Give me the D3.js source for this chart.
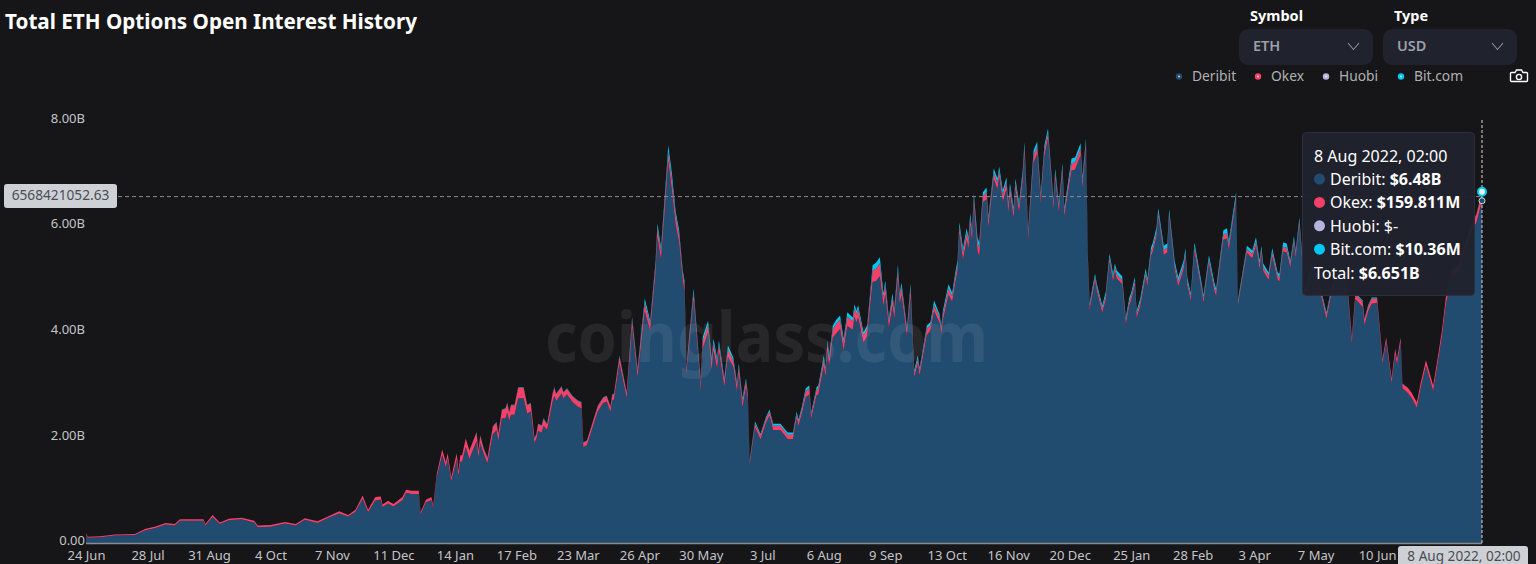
<!DOCTYPE html>
<html><head><meta charset="utf-8">
<script src="https://cdn.jsdelivr.net/npm/d3@7/dist/d3.min.js"></script>
<style>
html,body{margin:0;padding:0;background:#161618;overflow:hidden}
svg{display:block}
text{font-family:"Noto Sans",sans-serif}
</style></head><body>
<svg id="chart" width="1536" height="564"></svg>
<script>
const chartTitle = "Total ETH Options Open Interest History";
const seriesNames = ["Deribit","Okex","Huobi","Bit.com"];
const seriesColors = ["#224b70","#f5406a","#b8b3de","#00c8f2"];
const xTickLabels = ["24 Jun","28 Jul","31 Aug","4 Oct","7 Nov","11 Dec","14 Jan","17 Feb","23 Mar","26 Apr","30 May","3 Jul","6 Aug","9 Sep","13 Oct","16 Nov","20 Dec","25 Jan","28 Feb","3 Apr","7 May","10 Jun"];
const xTickStep = 34;
const yTicks = [0,2,4,6,8];
const dayIndex = [
0,1,8,16,27,33,38,44,49,52,
65,66,70,74,79,86,93,95,102,110,
116,121,128,135,140,145,149,153,156,160,
163,164,167,170,175,177,180,184,185,188,
191,192,194,197,199,200,202,205,206,207,
208,210,212,216,217,218,220,222,225,227,
228,230,232,233,234,235,237,239,242,244,
246,248,249,250,252,253,255,258,259,260,
263,264,266,269,272,274,275,277,283,286,
288,290,291,292,295,299,302,305,309,312,
315,316,318,321,322,324,326,328,330,331,
332,336,338,340,341,344,346,347,349,350,
353,355,358,360,361,363,365,366,367,370,
373,376,378,380,384,388,391,393,394,396,
398,400,401,404,405,408,409,410,411,413,
415,417,419,421,424,425,426,427,430,432,
435,437,439,441,442,444,446,447,449,450,
451,454,456,458,460,461,465,467,469,472,
473,474,477,479,481,482,483,485,487,488,
489,490,491,493,494,496,498,499,502,504,
505,507,509,510,511,513,514,516,518,519,
521,524,526,528,530,532,535,536,538,540,
541,545,547,550,551,553,554,555,558,559,
562,564,566,568,569,570,573,575,577,578,
580,581,583,586,587,589,590,592,593,596,
598,599,602,604,607,608,609,611,613,617,
618,621,624,625,629,631,632,636,637,642,
645,647,649,650,651,654,656,659,660,662,
664,666,668,669,671,674,678,682,686,689,
693,697,700,702,706,707,709,711,714,717,
719,722,724,725,727,728,731,733,736,738,
741,745,748,750,752,755,759,763,766,769,
772];
const totalB = [
.18,.12,.13,.16,.17,.27,.31,.38,.36,.45,
.45,.36,.53,.39,.46,.48,.42,.33,.34,.40,
.36,.47,.41,.52,.60,.53,.63,.90,.63,.87,
.88,.73,.80,.74,.87,1.01,.99,.99,.58,.82,
.87,.71,1.31,1.77,1.53,1.70,1.25,1.70,1.37,1.66,
1.66,1.98,1.75,2.10,1.75,2.04,1.79,1.62,2.21,2.29,
2.07,2.53,2.55,2.66,2.48,2.62,2.62,2.95,2.95,2.62,
2.65,2.00,2.06,2.26,2.23,2.36,2.26,2.83,2.95,2.83,
2.97,2.86,2.93,2.79,2.70,2.67,1.91,1.94,2.60,2.76,
2.79,2.59,2.81,2.83,3.55,2.86,4.28,3.30,4.63,4.21,
5.35,6.05,5.60,7.02,7.53,7.00,6.30,5.92,5.16,4.97,
3.32,4.82,3.93,3.04,3.89,4.21,3.49,3.87,3.51,3.84,
3.13,3.74,3.51,3.04,3.40,2.74,3.12,2.83,1.56,2.30,
2.07,2.38,2.53,2.26,2.26,2.09,2.09,2.49,2.34,2.60,
2.93,2.98,2.47,2.95,2.98,3.55,3.32,3.84,3.55,4.12,
4.23,4.31,3.87,4.37,4.27,4.52,4.40,4.50,3.99,4.12,
5.26,5.31,5.41,4.73,4.97,4.27,4.73,4.44,5.27,4.73,
4.93,4.08,4.91,3.27,3.55,3.32,4.12,4.18,4.59,4.33,
4.12,4.42,4.90,4.74,5.18,5.35,6.07,5.58,5.96,5.79,
6.24,5.92,6.62,5.79,5.69,6.64,6.73,6.17,7.09,6.90,
7.13,6.68,6.92,6.45,6.81,6.35,6.90,6.45,7.06,7.59,
5.92,7.43,7.60,6.62,7.53,7.85,6.49,7.09,6.43,7.19,
6.35,7.28,7.30,7.57,6.92,7.66,5.48,4.54,5.10,4.91,
4.50,4.76,5.48,5.10,5.29,5.16,5.05,4.27,4.65,4.74,
5.03,4.40,4.63,5.20,5.01,5.60,5.69,5.98,6.34,5.63,
5.67,6.32,5.35,5.03,5.35,5.58,5.03,4.73,5.69,4.91,
4.69,5.45,4.93,4.82,5.92,5.96,5.73,6.64,4.59,5.63,
5.54,5.79,5.35,5.63,5.29,5.12,5.58,5.12,5.10,5.69,
5.67,5.35,5.81,5.54,6.16,4.78,5.31,4.93,4.37,4.88,
5.16,5.12,3.89,4.74,4.59,4.25,4.50,4.65,4.65,3.49,
3.89,3.12,3.68,3.49,3.89,3.02,2.94,2.85,2.66,3.02,
3.46,2.98,3.61,4.06,4.65,5.16,5.26,5.73,6.01,6.24,
6.65];
const okexB = [
.02,.02,.02,.02,.02,.03,.03,.03,.03,.03,
.03,.03,.04,.03,.03,.03,.03,.03,.03,.03,
.03,.03,.03,.03,.04,.03,.04,.06,.05,.06,
.06,.05,.05,.05,.06,.06,.06,.06,.04,.05,
.06,.05,.06,.10,.10,.10,.08,.12,.10,.12,
.12,.16,.16,.16,.12,.14,.10,.10,.14,.14,
.12,.16,.18,.18,.16,.18,.18,.20,.20,.16,
.15,.09,.09,.13,.13,.13,.11,.15,.15,.13,
.13,.11,.11,.11,.11,.11,.08,.08,.10,.10,
.10,.10,.10,.10,.12,.10,.14,.12,.16,.14,
.16,.18,.16,.20,.18,.20,.18,.16,.14,.14,
.10,.14,.12,.12,.14,.14,.14,.14,.14,.14,
.12,.14,.12,.12,.14,.12,.12,.10,.06,.08,
.08,.08,.08,.08,.08,.08,.08,.08,.08,.09,
.12,.12,.08,.10,.12,.14,.12,.14,.14,.16,
.18,.18,.16,.18,.16,.16,.16,.16,.14,.14,
.22,.24,.24,.16,.18,.14,.16,.14,.18,.14,
.16,.12,.16,.08,.10,.10,.12,.10,.12,.10,
.10,.12,.12,.10,.12,.12,.12,.14,.14,.14,
.14,.14,.14,.16,.16,.12,.14,.12,.12,.12,
.12,.14,.14,.12,.14,.12,.12,.12,.14,.12,
.12,.14,.14,.12,.12,.12,.10,.12,.10,.12,
.10,.14,.14,.14,.12,.12,.10,.08,.08,.08,
.08,.08,.08,.08,.08,.08,.08,.08,.08,.08,
.08,.08,.08,.08,.08,.08,.09,.09,.08,.09,
.09,.08,.09,.09,.09,.08,.08,.08,.09,.08,
.08,.08,.08,.08,.10,.10,.10,.08,.06,.08,
.08,.09,.09,.08,.08,.08,.09,.08,.08,.09,
.09,.08,.08,.08,.08,.08,.08,.08,.09,.08,
.08,.08,.10,.10,.10,.10,.10,.10,.08,.08,
.08,.08,.10,.10,.08,.08,.10,.10,.10,.10,
.10,.10,.10,.12,.14,.14,.14,.15,.15,.15,
.16];
const bitcomB = [
0,0,0,0,0,0,0,0,0,0,
0,0,0,0,0,0,0,0,0,0,
0,0,0,0,0,0,0,0,0,0,
0,0,0,0,0,0,0,0,0,0,
0,0,0,0,0,0,0,0,0,0,
0,0,0,.01,.01,.01,.01,.01,.01,.01,
.01,.01,.01,.01,.01,.01,.01,.01,.01,.01,
.01,.01,.01,.01,.01,.01,.01,.01,.01,.01,
.01,.01,.01,.01,.01,.01,.01,.01,.01,.01,
.01,.01,.01,.01,.02,.02,.05,.04,.08,.06,
.08,.08,.08,.12,.12,.12,.08,.08,.06,.06,
.04,.08,.06,.05,.07,.08,.07,.08,.07,.07,
.05,.07,.06,.05,.06,.05,.05,.03,.03,.04,
.03,.03,.04,.04,.04,.04,.04,.05,.04,.05,
.05,.05,.04,.05,.05,.06,.05,.06,.06,.07,
.08,.08,.07,.08,.07,.07,.07,.07,.06,.06,
.10,.11,.12,.08,.08,.06,.08,.06,.09,.07,
.08,.05,.08,.05,.06,.05,.06,.06,.08,.06,
.06,.07,.08,.07,.08,.08,.08,.08,.08,.08,
.08,.08,.08,.10,.10,.07,.08,.07,.08,.08,
.08,.08,.08,.07,.08,.07,.08,.07,.08,.08,
.07,.09,.09,.07,.08,.08,.07,.08,.07,.08,
.07,.09,.09,.09,.08,.08,.07,.06,.06,.06,
.06,.07,.07,.07,.07,.07,.07,.06,.07,.07,
.07,.06,.07,.08,.07,.08,.08,.08,.08,.08,
.08,.08,.08,.08,.08,.08,.07,.07,.08,.07,
.06,.08,.08,.07,.08,.09,.08,.08,.05,.06,
.07,.08,.07,.06,.06,.06,.07,.06,.07,.08,
.08,.06,.07,.06,.07,.05,.05,.04,.04,.04,
.03,.03,.02,.02,.02,.02,.02,.02,.02,.01,
.01,.01,.01,.01,.01,.01,.00,.00,.00,.00,
.00,.00,.00,.00,.00,.01,.01,.01,.01,.01,
.01];
const huobiB = dayIndex.map(() => 0);
const deribitB = totalB.map((t, i) => t - okexB[i] - bitcomB[i]);
const rows = dayIndex.map((d, i) => ({day:d, Deribit:deribitB[i], Okex:okexB[i], Huobi:huobiB[i], "Bit.com":bitcomB[i]}));

const tooltipLines = [
  {name:"Deribit", value:"$6.48B"},
  {name:"Okex", value:"$159.811M"},
  {name:"Huobi", value:"$-"},
  {name:"Bit.com", value:"$10.36M"}
];
const tooltipDate = "8 Aug 2022, 02:00";
const tooltipTotal = "$6.651B";
const crosshairValue = 6568421052.63;

const svg = d3.select("#chart");
const x = d3.scaleLinear().domain([0, d3.max(dayIndex)]).range([86, 1482]);
const y = d3.scaleLinear().domain([0, 8]).range([543, 120.5]);
const layers = d3.stack().keys(seriesNames)(rows);
const area = d3.area().x(d => x(d.data.day)).y0(d => y(d[0])).y1(d => y(d[1])).curve(d3.curveLinear);

// title and controls
svg.append("text").attr("x",5).attr("y",29).attr("fill","#fff").attr("font-size",21.5).attr("font-weight",700)
  .attr("textLength",412).attr("lengthAdjust","spacingAndGlyphs").text(chartTitle);
const selects = [{label:"Symbol", value:"ETH", x:1239, lx:1250},{label:"Type", value:"USD", x:1383, lx:1394}];
selects.forEach(s => {
  svg.append("text").attr("x",s.lx).attr("y",21).attr("fill","#fff").attr("font-size",14.5).attr("font-weight",700).text(s.label);
  svg.append("rect").attr("x",s.x).attr("y",29).attr("width",134).attr("height",36).attr("rx",9).attr("fill","#20222e");
  svg.append("text").attr("x",s.x+14).attr("y",51).attr("fill","#9ca0aa").attr("font-size",14.5).attr("font-weight",600).text(s.value);
  svg.append("path").attr("d",`M${s.x+109},${43}l5.5,6.5l5.5,-6.5`).attr("fill","none").attr("stroke","#8d909a").attr("stroke-width",1.1);
});

// legend
const legendX = [1179,1258,1326,1401];
seriesNames.forEach((n,i) => {
  svg.append("circle").attr("cx",legendX[i]).attr("cy",76.5).attr("r",3.2).attr("fill",seriesColors[i]);
  svg.append("circle").attr("cx",legendX[i]).attr("cy",76.5).attr("r",1).attr("fill","#fff").attr("opacity",.75);
  svg.append("text").attr("x",legendX[i]+13).attr("y",81).attr("fill","#b0b0b4").attr("font-size",13.8).text(n);
});
// camera icon
const cam = svg.append("g").attr("fill","none").attr("stroke","#fff").attr("stroke-width",1.4);
cam.append("path").attr("d","M1511.5,72.5h3.5l1.5,-2.5h5l1.5,2.5h3.5a1,1 0 0 1 1,1v7a1,1 0 0 1 -1,1h-15a1,1 0 0 1 -1,-1v-7a1,1 0 0 1 1,-1z");
cam.append("circle").attr("cx",1519).attr("cy",77).attr("r",2.6);

// stacked areas
svg.append("g").selectAll("path").data(layers).join("path")
  .attr("d",area).attr("fill",(d,i)=>seriesColors[i]);

// axes
const yAxis = d3.axisLeft(y).tickValues(yTicks).tickSize(0).tickPadding(1).tickFormat(v => v === 0 ? "0.00" : v.toFixed(2)+"B");
const gy = svg.append("g").attr("transform","translate(86,-2.5)").call(yAxis);
gy.select(".domain").remove();
gy.selectAll("text").attr("fill","#c4c4c8").attr("font-size",13).attr("font-family",'"Noto Sans",sans-serif');

const xAxis = d3.axisBottom(x).tickValues(xTickLabels.map((_,i)=>i*xTickStep)).tickSize(0).tickPadding(8).tickFormat((_,i)=>xTickLabels[i]);
const gx = svg.append("g").attr("transform","translate(0,543)").call(xAxis);
gx.select(".domain").attr("stroke","#8a8c90").attr("stroke-width",1.5).attr("d","M86,0.5H1482");
gx.selectAll("text").attr("fill","#c4c4c8").attr("font-size",13).attr("font-family",'"Noto Sans",sans-serif');

// watermark
svg.append("text").attr("x",545).attr("y",362).attr("fill","#fff").attr("fill-opacity",.075)
  .attr("font-size",70).attr("font-weight",700).attr("textLength",443).attr("lengthAdjust","spacingAndGlyphs").text("coinglass.com");

// crosshair
const cy = y(crosshairValue/1e9), lastX = x(d3.max(dayIndex));
svg.append("line").attr("x1",118).attr("x2",lastX).attr("y1",cy+.5).attr("y2",cy+.5).attr("stroke","#8d8e90").attr("stroke-width",1).attr("stroke-dasharray","4 3");
svg.append("line").attr("x1",lastX).attr("x2",lastX).attr("y1",120).attr("y2",543).attr("stroke","#d8d8d8").attr("stroke-width",1).attr("stroke-dasharray","3 2");
svg.append("rect").attr("x",4).attr("y",184).attr("width",113).attr("height",24).attr("rx",3).attr("fill","#cdd1d6");
svg.append("text").attr("x",60.5).attr("y",200).attr("text-anchor","middle").attr("fill","#4a4c50").attr("font-size",13.7).text(crosshairValue.toFixed(2));
svg.append("rect").attr("x",1398).attr("y",546).attr("width",130).attr("height",20).attr("rx",3).attr("fill","#cdd1d6");
svg.append("text").attr("x",1464).attr("y",561).attr("text-anchor","middle").attr("fill","#4a4c50").attr("font-size",13.6).text(tooltipDate);

// hover points
const lastRow = layers.map(l => l[l.length-1][1]);
svg.append("circle").attr("cx",lastX).attr("cy",y(lastRow[0])).attr("r",3).attr("fill",seriesColors[0]).attr("stroke","#cfd8e0").attr("stroke-width",1);
svg.append("circle").attr("cx",lastX).attr("cy",y(lastRow[3])).attr("r",4).attr("fill","#dff6fc").attr("stroke",seriesColors[3]).attr("stroke-width",2);

// tooltip
svg.append("rect").attr("x",1302.5).attr("y",132.5).attr("width",172).attr("height",163).attr("rx",4)
  .attr("fill","#20222e").attr("fill-opacity",.97).attr("stroke","#2c2e3a");
const tip = svg.append("g").attr("fill","#fff").attr("font-size",16);
tip.append("text").attr("x",1314).attr("y",162).text(tooltipDate);
tooltipLines.forEach((l,i) => {
  const yy = 185 + i*23.4;
  tip.append("circle").attr("cx",1319.5).attr("cy",yy-6).attr("r",5.5).attr("fill",seriesColors[i]);
  const t = tip.append("text").attr("x",1330).attr("y",yy);
  t.append("tspan").text(l.name+": ");
  t.append("tspan").attr("font-weight", l.name==="Huobi"?400:700).text(l.value);
});
const tt = tip.append("text").attr("x",1314).attr("y",278.5);
tt.append("tspan").text("Total: ");
tt.append("tspan").attr("font-weight",700).text(tooltipTotal);
</script>
</body></html>
